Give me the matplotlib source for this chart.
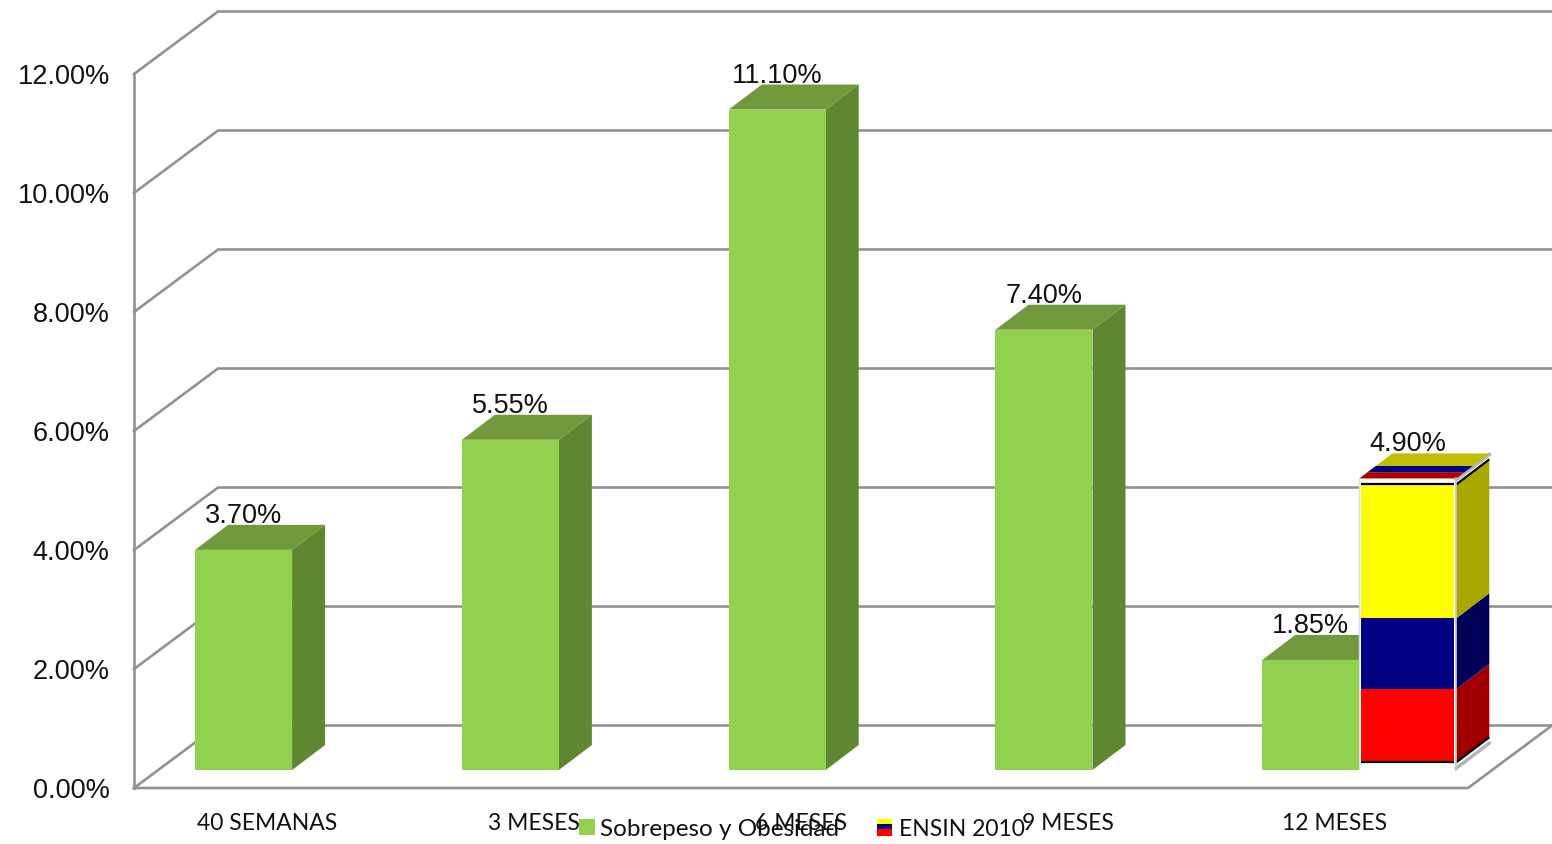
"""Faux-3D column chart: overweight and obesity by age, with the ENSIN 2010 reference."""

import matplotlib
matplotlib.use("Agg")
import matplotlib.pyplot as plt
from matplotlib.patches import Polygon, Rectangle

categories = ["40 SEMANAS", "3 MESES", "6 MESES", "9 MESES", "12 MESES"]
sobrepeso = [3.70, 5.55, 11.10, 7.40, 1.85]
ensin_category = 4
ensin_value = 4.90
y_ticks = [0, 2, 4, 6, 8, 10, 12]

# flag stripes on the ENSIN bar, bottom to top, as (start, end) in chart units
flag_red = (0.13, 1.36)
flag_blue = (1.36, 2.55)
flag_yellow = (2.55, 4.80)

W, H = 1552, 844
CAT_PX = 266.8
UNIT_PX = 59.5

# depth of the chart box and of a bar, in data units
WALL_DX, WALL_DY = 84 / CAT_PX, 62.5 / UNIT_PX
BAR_DX, BAR_DY = 33 / CAT_PX, 25 / UNIT_PX
BAR_W = 97 / CAT_PX
BAR_OFF = -0.271
BASE = 18 / UNIT_PX  # bars stand a little behind the front floor edge
LABEL_GAP = 34 / UNIT_PX

GRID = "#929292"
GREEN, GREEN_SIDE, GREEN_TOP = "#92d050", "#5f8731", "#70993c"
TEXT_FONT = ["Liberation Sans", "DejaVu Sans"]
LABEL_FONT = ["Lato", "DejaVu Sans"]

fig = plt.figure(figsize=(W / 100, H / 100), dpi=100)
ax = fig.add_axes([134 / W, (H - 788) / H, 1334 / W, 714 / H])
ax.set_xlim(-0.5, 4.5)
ax.set_ylim(0, 12)
for sp in ax.spines.values():
    sp.set_visible(False)
ax.patch.set_visible(False)


def poly(pts, color, z=3, **kw):
    ax.add_patch(Polygon(pts, closed=True, facecolor=color, edgecolor=kw.pop("ec", "none"),
                         clip_on=False, zorder=z, **kw))


# box: walls, gridlines and floor
x0, x1 = -0.5, 4.5
right_edge = x1 + WALL_DX
for t in y_ticks:
    ax.plot([x0, x0 + WALL_DX, right_edge], [t, t + WALL_DY, t + WALL_DY],
            color=GRID, lw=1.9, clip_on=False, zorder=1, solid_joinstyle="miter")
ax.plot([x0, x0], [0, 12], color=GRID, lw=1.9, clip_on=False, zorder=1)
ax.plot([x0, x1, right_edge], [0, 0, WALL_DY], color=GRID, lw=1.9, clip_on=False, zorder=1)

# green bars
for i, v in enumerate(sobrepeso):
    left = i + BAR_OFF
    right = left + BAR_W
    top = BASE + v
    poly([(right, BASE), (right + BAR_DX, BASE + BAR_DY),
          (right + BAR_DX, top + BAR_DY), (right, top)], GREEN_SIDE)
    poly([(left, top), (right, top), (right + BAR_DX, top + BAR_DY),
          (left + BAR_DX, top + BAR_DY)], GREEN_TOP)
    ax.add_patch(Rectangle((left, BASE), BAR_W, v, facecolor=GREEN, edgecolor="none",
                           clip_on=False, zorder=4))
    ax.text(left + BAR_W / 2, top + LABEL_GAP, f"{v:.2f}%", ha="center", va="center",
            fontsize=19.5, family=TEXT_FONT, color="#111111", zorder=8, clip_on=False)

# ENSIN bar, painted with the flag
left = ensin_category + BAR_OFF + BAR_W
right = left + BAR_W
top = BASE + ensin_value
ax.add_patch(Rectangle((left, BASE), BAR_W, ensin_value, facecolor="white", edgecolor="none",
                       clip_on=False, zorder=5))
inset = 2 / CAT_PX
for (lo, hi), c, side in [(flag_red, "#ff0000", "#a00000"),
                          (flag_blue, "#000080", "#000058"),
                          (flag_yellow, "#ffff00", "#a8a800")]:
    ax.add_patch(Rectangle((left + inset, BASE + lo), BAR_W - 2 * inset, hi - lo, facecolor=c,
                           edgecolor="none", clip_on=False, zorder=6))
    poly([(right, BASE + lo), (right + BAR_DX, BASE + lo + BAR_DY),
          (right + BAR_DX, BASE + hi + BAR_DY), (right, BASE + hi)], side, z=5)
for y in (flag_red[0], flag_yellow[1]):
    ax.plot([left + inset, right - inset], [BASE + y, BASE + y], color="black", lw=1.6,
            clip_on=False, zorder=7, solid_capstyle="butt")
    ax.plot([right, right + BAR_DX], [BASE + y, BASE + y + BAR_DY], color="black", lw=1.6,
            clip_on=False, zorder=6, solid_capstyle="butt")
ax.plot([right, right + BAR_DX], [BASE + 0.03, BASE + 0.03 + BAR_DY], color="#b5b5b5", lw=2.5,
        clip_on=False, zorder=5)
ax.plot([right, right + BAR_DX], [top - 0.02, top - 0.02 + BAR_DY], color="#b5b5b5", lw=2.5,
        clip_on=False, zorder=5)
ax.plot([right, right], [BASE, top], color="#c4c4c4", lw=1.2, clip_on=False, zorder=7)
ax.plot([left, left], [BASE, top], color="#dddddd", lw=1.0, clip_on=False, zorder=7)

# top face has the stripes running front to back
for f0, f1, c in [(0.0, 0.25, "#b00000"), (0.25, 0.5, "#000080"), (0.5, 1.0, "#c0c000")]:
    poly([(left + f0 * BAR_DX, top + f0 * BAR_DY), (right + f0 * BAR_DX, top + f0 * BAR_DY),
          (right + f1 * BAR_DX, top + f1 * BAR_DY), (left + f1 * BAR_DX, top + f1 * BAR_DY)], c, z=5)
ax.text(left + BAR_W / 2, top + LABEL_GAP + 0.5 / UNIT_PX, f"{ensin_value:.2f}%", ha="center",
        va="center", fontsize=19.5, family=TEXT_FONT, color="#111111", zorder=8, clip_on=False)

# axes text
ax.set_yticks(y_ticks, [f"{t:.2f}%" for t in y_ticks], fontsize=19.5, family=TEXT_FONT, color="#111111")
ax.set_xticks(range(len(categories)), categories, fontsize=16.5, family=LABEL_FONT, color="#111111")
ax.tick_params(axis="y", length=0, pad=17.5)
ax.tick_params(axis="x", length=0, pad=17.7)

# legend drawn by hand since one key is a little flag
fig.add_artist(Rectangle((579 / W, (H - 835) / H), 16 / W, 16 / H, facecolor=GREEN, edgecolor="none",
                         transform=fig.transFigure))
for y0, y1, c in [(829, 836, "#ff0000"), (824, 829, "#000080"), (819, 824, "#ffff00")]:
    fig.add_artist(Rectangle((877 / W, (H - y1) / H), 15 / W, (y1 - y0) / H, facecolor=c,
                             edgecolor="none", transform=fig.transFigure))
fig.text(600 / W, (H - 830) / H, "Sobrepeso y Obesidad", ha="left", va="center", fontsize=17.5,
         family=LABEL_FONT, color="#111111")
fig.text(899 / W, (H - 830) / H, "ENSIN 2010", ha="left", va="center", fontsize=16.5,
         family=LABEL_FONT, color="#111111")

fig.savefig("out.png", dpi=100)
